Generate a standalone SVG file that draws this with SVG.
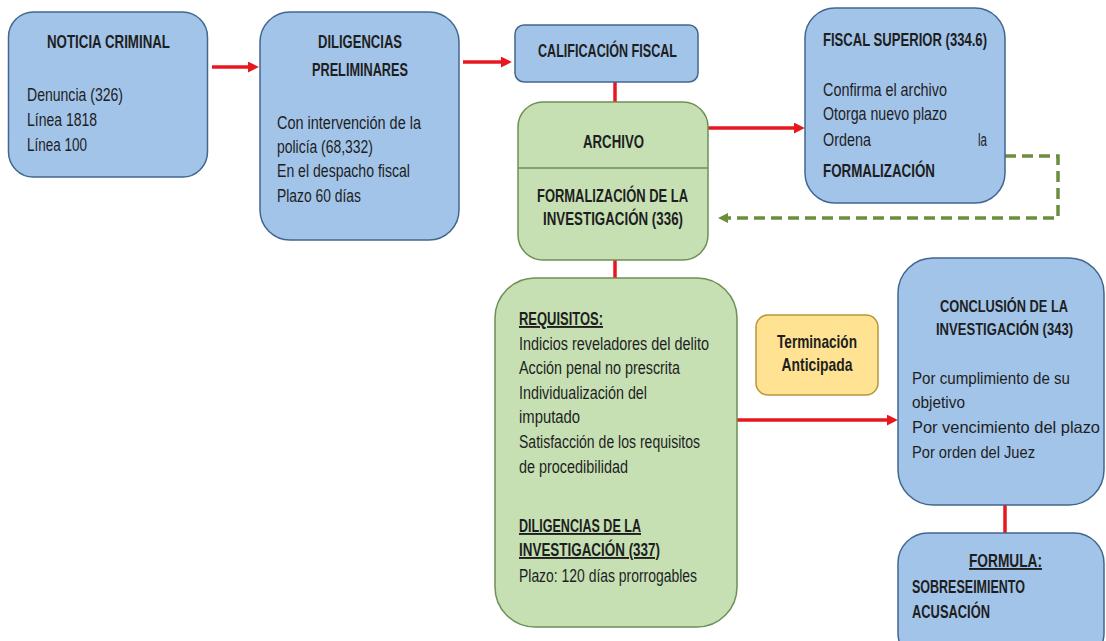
<svg xmlns="http://www.w3.org/2000/svg" width="1106" height="641" viewBox="0 0 1106 641">
<style>
.blue{fill:#A2C4E9;stroke:#41678F;stroke-width:1.5}
.green{fill:#C6E0B4;stroke:#6E8F55;stroke-width:1.5}
.yellow{fill:#FFE393;stroke:#B8963A;stroke-width:1.5}
text{font-family:"Liberation Sans",Arial,sans-serif;fill:#1e1e1e;font-size:17.5px}
.b{font-weight:bold;font-size:19px}
.c{text-anchor:middle}
.u{text-decoration:underline}
.s{font-size:16.5px}
.bs{font-weight:bold;font-size:16px}
.red{stroke:#E8171E;stroke-width:3.5;fill:none}
.dash{stroke:#6B8E3C;stroke-width:3.5;fill:none;stroke-dasharray:11 6}
</style>
<defs>
<marker id="ar" markerUnits="userSpaceOnUse" markerWidth="11" markerHeight="11" viewBox="0 0 10 10" refX="2" refY="5" orient="auto">
<path d="M0,0 L10,5 L0,10 z" fill="#E8171E"/>
</marker>
<marker id="ag" markerUnits="userSpaceOnUse" markerWidth="10" markerHeight="10" viewBox="0 0 10 10" refX="2" refY="5" orient="auto">
<path d="M0,0 L10,5 L0,10 z" fill="#6B8E3C"/>
</marker>
</defs>
<rect width="1106" height="641" fill="#fff"/>
<g id="connectors">
<line class="red" x1="212" y1="67" x2="250" y2="67" marker-end="url(#ar)"/>
<line class="red" x1="463" y1="62" x2="503" y2="62" marker-end="url(#ar)"/>
<line class="red" x1="615" y1="82" x2="615" y2="102"/>
<line class="red" x1="708" y1="128" x2="796" y2="128" marker-end="url(#ar)"/>
<path class="dash" d="M1005,156 H1058 V218 H726" marker-end="url(#ag)"/>
<line class="red" x1="615" y1="260" x2="615" y2="278"/>
<line class="red" x1="737" y1="420" x2="889" y2="420" marker-end="url(#ar)"/>
<line class="red" x1="1005" y1="505" x2="1005" y2="533"/>
</g>
<g id="noticia">
<rect class="blue" x="8.5" y="12" width="199" height="165" rx="25"/>
<text class="b c" x="108.5" y="48" textLength="123" lengthAdjust="spacingAndGlyphs">NOTICIA CRIMINAL</text>
<text x="27" y="101" textLength="96" lengthAdjust="spacingAndGlyphs">Denuncia (326)</text>
<text x="27" y="126" textLength="70" lengthAdjust="spacingAndGlyphs">Línea 1818</text>
<text x="27" y="151" textLength="60" lengthAdjust="spacingAndGlyphs">Línea 100</text>
</g>
<g id="diligencias">
<rect class="blue" x="260" y="12" width="199" height="228" rx="30"/>
<text class="b c" x="360" y="48" textLength="84" lengthAdjust="spacingAndGlyphs">DILIGENCIAS</text>
<text class="b c" x="360" y="76" textLength="96" lengthAdjust="spacingAndGlyphs">PRELIMINARES</text>
<text x="277" y="129" textLength="144" lengthAdjust="spacingAndGlyphs">Con intervención de la</text>
<text x="277" y="153" textLength="96" lengthAdjust="spacingAndGlyphs">policía (68,332)</text>
<text x="277" y="177" textLength="133" lengthAdjust="spacingAndGlyphs">En el despacho fiscal</text>
<text x="277" y="202" textLength="84" lengthAdjust="spacingAndGlyphs">Plazo 60 días</text>
</g>
<g id="calificacion">
<rect class="blue" x="515" y="25" width="183" height="57" rx="9"/>
<text class="b c" x="607.5" y="57" textLength="139" lengthAdjust="spacingAndGlyphs">CALIFICACIÓN FISCAL</text>
</g>
<g id="archivo">
<rect class="green" x="518" y="102" width="190" height="158" rx="25"/>
<line x1="518" y1="168" x2="708" y2="168" stroke="#6E8F55" stroke-width="1.5"/>
<text class="b c" x="613.5" y="148" textLength="61" lengthAdjust="spacingAndGlyphs">ARCHIVO</text>
<text class="b c" x="612.5" y="202" textLength="151" lengthAdjust="spacingAndGlyphs">FORMALIZACIÓN DE LA</text>
<text class="b c" x="613" y="225" textLength="140" lengthAdjust="spacingAndGlyphs">INVESTIGACIÓN (336)</text>
</g>
<g id="fiscal-superior">
<rect class="blue" x="805" y="8" width="200" height="195" rx="30"/>
<text class="b" x="823" y="46" textLength="164" lengthAdjust="spacingAndGlyphs">FISCAL SUPERIOR (334.6)</text>
<text x="823" y="96" textLength="124" lengthAdjust="spacingAndGlyphs">Confirma el archivo</text>
<text x="823" y="120" textLength="124" lengthAdjust="spacingAndGlyphs">Otorga nuevo plazo</text>
<text x="823" y="146" textLength="48" lengthAdjust="spacingAndGlyphs">Ordena</text>
<text x="978" y="146" textLength="9" lengthAdjust="spacingAndGlyphs">la</text>
<text class="b" x="823" y="177" textLength="112" lengthAdjust="spacingAndGlyphs">FORMALIZACIÓN</text>
</g>
<g id="requisitos">
<rect class="green" x="495" y="278" width="242" height="349" rx="40"/>
<text class="b u" x="519" y="325" textLength="84" lengthAdjust="spacingAndGlyphs">REQUISITOS:</text>
<text x="519" y="350" textLength="190" lengthAdjust="spacingAndGlyphs">Indicios reveladores del delito</text>
<text x="519" y="374" textLength="161" lengthAdjust="spacingAndGlyphs">Acción penal no prescrita</text>
<text x="519" y="399" textLength="128" lengthAdjust="spacingAndGlyphs">Individualización del</text>
<text x="519" y="423" textLength="61" lengthAdjust="spacingAndGlyphs">imputado</text>
<text x="519" y="448" textLength="181" lengthAdjust="spacingAndGlyphs">Satisfacción de los requisitos</text>
<text x="519" y="473" textLength="109" lengthAdjust="spacingAndGlyphs">de procedibilidad</text>
<text class="b u" x="519" y="532" textLength="122" lengthAdjust="spacingAndGlyphs">DILIGENCIAS DE LA</text>
<text class="b u" x="519" y="556" textLength="141" lengthAdjust="spacingAndGlyphs">INVESTIGACIÓN (337)</text>
<text x="519" y="582" textLength="178" lengthAdjust="spacingAndGlyphs">Plazo: 120 días prorrogables</text>
</g>
<g id="terminacion">
<rect class="yellow" x="756" y="315" width="122" height="80" rx="12"/>
<text class="b c" x="817" y="348" textLength="80" lengthAdjust="spacingAndGlyphs">Terminación</text>
<text class="b c" x="817" y="371" textLength="71" lengthAdjust="spacingAndGlyphs">Anticipada</text>
</g>
<g id="conclusion">
<rect class="blue" x="898" y="258" width="206" height="247" rx="35"/>
<text class="bs c" x="1004" y="312" textLength="128" lengthAdjust="spacingAndGlyphs">CONCLUSIÓN DE LA</text>
<text class="bs c" x="1004.5" y="335" textLength="137" lengthAdjust="spacingAndGlyphs">INVESTIGACIÓN (343)</text>
<text class="s" x="912" y="384" textLength="158" lengthAdjust="spacingAndGlyphs">Por cumplimiento de su</text>
<text class="s" x="912" y="408" textLength="53" lengthAdjust="spacingAndGlyphs">objetivo</text>
<text class="s" x="912" y="433" textLength="188" lengthAdjust="spacingAndGlyphs">Por vencimiento del plazo</text>
<text class="s" x="912" y="458" textLength="123" lengthAdjust="spacingAndGlyphs">Por orden del Juez</text>
</g>
<g id="formula">
<rect class="blue" x="898" y="533" width="206" height="130" rx="30"/>
<text class="b u c" x="1005.5" y="567" textLength="73" lengthAdjust="spacingAndGlyphs">FORMULA:</text>
<text class="b" x="912" y="593" textLength="113" lengthAdjust="spacingAndGlyphs">SOBRESEIMIENTO</text>
<text class="b" x="912" y="618" textLength="78" lengthAdjust="spacingAndGlyphs">ACUSACIÓN</text>
</g>
</svg>
